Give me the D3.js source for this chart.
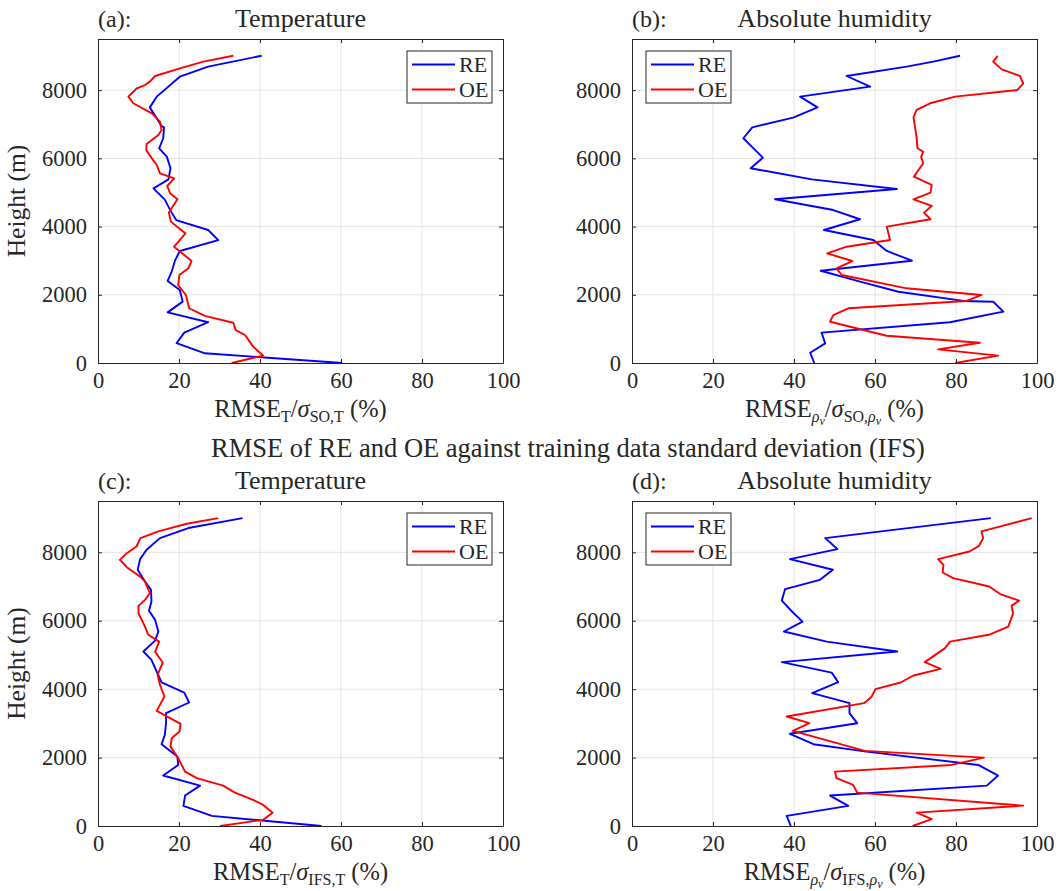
<!DOCTYPE html>
<html>
<head>
<meta charset="utf-8">
<script src="https://cdn.jsdelivr.net/npm/d3@7"></script>
<style>
  body { margin: 0; background: #fff; }
  svg text { font-family: "Liberation Serif", "Times New Roman", serif; fill: #262626; }
</style>
</head>
<body>
<svg id="chart" width="1059" height="891"></svg>
<script>
// [RMSE (%), height (m)], top to bottom
var tempSoRE = [[40.4,9010],[27.2,8690],[20.2,8395],[14.5,7810],[12.8,7495],[15.7,6950],[16.3,6910],[16.1,6590],[15.1,6295],[17.0,6050],[17.9,5710],[17.4,5385],[13.7,5120],[16.5,4790],[17.8,4490],[19.3,4190],[27.2,3900],[29.7,3605],[20.2,3285],[19.0,3000],[18.2,2680],[17.2,2405],[20.2,2140],[20.9,1800],[17.2,1485],[27.2,1195],[21.3,890],[19.4,580],[26.4,285],[60.3,0]];
var tempSoOE = [[33.4,9010],[26.0,8835],[20.2,8640],[14.1,8415],[12.8,8250],[11.6,8150],[9.6,8055],[7.5,7810],[8.7,7615],[13.3,7320],[15.3,7075],[15.7,6830],[14.9,6685],[12.0,6420],[11.9,6245],[13.3,6000],[14.5,5805],[15.3,5560],[18.8,5415],[17.1,5190],[17.8,4975],[19.6,4800],[17.5,4410],[18.0,4145],[21.6,3800],[18.8,3410],[23.1,2990],[22.3,2775],[20.1,2580],[19.8,2285],[21.7,1995],[22.5,1605],[26.4,1380],[33.4,1180],[34.0,965],[36.3,820],[38.3,480],[40.8,215],[33.0,0]];
var humSoRE = [[81.0,9010],[74.4,8835],[67.8,8690],[53.0,8415],[58.8,8105],[41.5,7810],[45.8,7495],[39.8,7195],[29.7,6910],[27.5,6590],[30.0,6295],[32.3,6020],[29.3,5710],[44.4,5385],[65.4,5100],[35.3,4800],[49.7,4485],[56.3,4215],[47.4,3900],[59.6,3605],[62.9,3285],[69.1,3000],[46.6,2705],[56.3,2385],[65.8,2090],[81.8,1820],[89.2,1795],[91.7,1505],[78.5,1195],[46.8,890],[47.7,575],[44.0,300],[45.0,0]];
var humSoOE = [[90.3,9010],[89.2,8835],[91.3,8610],[95.8,8415],[96.6,8200],[95.2,8005],[79.8,7810],[73.6,7615],[70.3,7420],[69.5,7205],[69.9,6910],[70.3,6590],[70.5,6295],[71.9,6195],[71.4,6050],[71.9,5855],[69.6,5465],[74.0,5220],[73.7,4995],[69.5,4800],[74.0,4605],[72.1,4410],[73.7,4215],[62.9,4000],[63.7,3605],[53.0,3410],[48.2,3215],[54.4,2990],[50.5,2775],[51.8,2580],[67.8,2190],[86.3,1995],[82.6,1820],[53.4,1605],[49.7,1405],[48.9,1210],[62.9,800],[85.9,595],[75.6,400],[90.4,215],[79.8,0]];
var tempIfsRE = [[35.7,9000],[22.3,8710],[15.3,8415],[12.0,8075],[10.4,7800],[9.8,7490],[11.6,7145],[13.1,6905],[13.2,6560],[12.6,6290],[14.1,6025],[14.9,5685],[14.1,5420],[11.2,5100],[13.2,4855],[15.7,4195],[21.3,3900],[22.5,3610],[16.8,3300],[16.8,3005],[16.5,2665],[15.7,2390],[19.6,2030],[19.8,1785],[16.1,1475],[25.2,1180],[21.5,890],[21.1,590],[28.1,295],[55.2,0]];
var tempIfsOE = [[29.7,9000],[21.9,8835],[14.9,8610],[10.5,8415],[9.5,8170],[7.1,7975],[5.4,7780],[7.1,7565],[10.4,7290],[11.6,7145],[12.8,6805],[11.6,6610],[10.0,6435],[10.0,6220],[10.8,6025],[11.6,5830],[12.4,5590],[15.1,5390],[14.1,5090],[16.0,4780],[14.7,4420],[15.3,4125],[16.4,3785],[14.5,3365],[20.4,2985],[20.1,2760],[18.2,2565],[17.9,2320],[19.8,1980],[21.5,1590],[24.4,1400],[30.9,1180],[33.8,975],[38.3,765],[40.8,615],[43.1,390],[40.8,180],[30.1,0]];
var humIfsRE = [[88.6,9000],[47.7,8415],[50.7,8095],[39.0,7800],[49.6,7490],[46.4,7195],[37.8,6925],[37.0,6590],[39.5,6270],[42.1,5975],[37.5,5685],[48.1,5390],[65.5,5100],[37.0,4790],[49.3,4485],[50.9,4205],[44.5,3885],[53.7,3590],[53.7,3300],[55.6,3005],[39.0,2695],[44.8,2390],[57.9,2175],[85.5,1785],[90.4,1475],[87.6,1180],[48.9,890],[53.4,590],[38.2,295],[39.2,0]];
var humIfsOE = [[98.7,9000],[86.3,8610],[86.7,8415],[85.7,8190],[83.3,8025],[75.6,7800],[76.9,7635],[76.7,7410],[79.3,7245],[88.2,7000],[90.9,6780],[95.6,6590],[93.7,6435],[94.1,6220],[92.9,5830],[88.1,5590],[78.5,5390],[77.3,5200],[72.3,4790],[76.2,4595],[69.5,4400],[66.3,4195],[60.1,4000],[59.2,3785],[57.3,3590],[38.2,3200],[43.8,3005],[39.7,2780],[57.5,2195],[86.9,2000],[78.9,1785],[50.1,1590],[50.5,1400],[54.6,1200],[55.6,975],[96.6,595],[70.3,390],[74.0,200],[69.3,0]];

var xTicks = [0, 20, 40, 60, 80, 100];
var yTicks = [0, 2000, 4000, 6000, 8000];
var seriesNames = ["RE", "OE"];
var seriesColors = ["#0000ff", "#ff0000"];
var panelLetters = ["(a):", "(b):", "(c):", "(d):"];
var panelTitles = ["Temperature", "Absolute humidity", "Temperature", "Absolute humidity"];
var yLabel = "Height (m)";
var subtitle = "RMSE of RE and OE against training data standard deviation (IFS)";

// x labels as [text, level, italic] pieces; level 1 = subscript, 2 = sub-subscript
var labelTemp = function(src) { return [["RMSE",0],["T",1],["/",0],["σ",0,1],[src + ",T",1],[" (%)",0]]; };
var labelHum = function(src) { return [["RMSE",0],["ρ",1,1],["v",2,1],["/",0],["σ",0,1],[src + ",",1],["ρ",1,1],["v",2,1],[" (%)",0]]; };

var cols = [[98, 503], [632, 1037]],
    rows = [[39, 363], [501, 826]];

var panels = [
  {col: 0, row: 0, series: [tempSoRE, tempSoOE], label: labelTemp("SO"), legendLeft: false},
  {col: 1, row: 0, series: [humSoRE, humSoOE], label: labelHum("SO"), legendLeft: true},
  {col: 0, row: 1, series: [tempIfsRE, tempIfsOE], label: labelTemp("IFS"), legendLeft: false},
  {col: 1, row: 1, series: [humIfsRE, humIfsOE], label: labelHum("IFS"), legendLeft: true}
];

var svg = d3.select("#chart");
var axisColor = "#262626";

panels.forEach(function(p, i) {
  var x0 = cols[p.col][0], x1 = cols[p.col][1],
      y0 = rows[p.row][0], y1 = rows[p.row][1];

  var x = d3.scaleLinear().domain([0, 100]).range([x0, x1]),
      y = d3.scaleLinear().domain([0, 9500]).range([y1, y0]);

  var g = svg.append("g");

  // grid
  g.selectAll(".gx").data(xTicks.slice(1, -1)).enter().append("line")
    .attr("x1", function(d) { return x(d); }).attr("x2", function(d) { return x(d); })
    .attr("y1", y0).attr("y2", y1)
    .attr("stroke", "#e3e3e3").attr("stroke-width", 1);
  g.selectAll(".gy").data(yTicks.slice(1)).enter().append("line")
    .attr("x1", x0).attr("x2", x1)
    .attr("y1", function(d) { return y(d); }).attr("y2", function(d) { return y(d); })
    .attr("stroke", "#e3e3e3").attr("stroke-width", 1);

  // lines
  var line = d3.line()
    .x(function(d) { return x(d[0]); })
    .y(function(d) { return y(d[1]); });
  p.series.forEach(function(s, k) {
    g.append("path")
      .attr("d", line(s))
      .attr("fill", "none")
      .attr("stroke", seriesColors[k])
      .attr("stroke-width", 1.9)
      .attr("stroke-linejoin", "round");
  });

  // box with inward ticks on all sides
  var bottom = d3.axisBottom(x).tickValues(xTicks).tickSizeInner(-4).tickSizeOuter(0).tickPadding(9),
      top = d3.axisTop(x).tickValues(xTicks).tickSizeInner(-4).tickSizeOuter(0).tickFormat(""),
      left = d3.axisLeft(y).tickValues(yTicks).tickSizeInner(-4).tickSizeOuter(0).tickPadding(11).tickFormat(d3.format("d")),
      right = d3.axisRight(y).tickValues(yTicks).tickSizeInner(-4).tickSizeOuter(0).tickFormat("");

  [[bottom, "translate(0," + y1 + ")"], [top, "translate(0," + y0 + ")"],
   [left, "translate(" + x0 + ",0)"], [right, "translate(" + x1 + ",0)"]].forEach(function(a) {
    var ag = g.append("g").attr("transform", a[1]).call(a[0]);
    ag.select(".domain").attr("stroke", axisColor).attr("stroke-width", 1);
    ag.selectAll(".tick line").attr("stroke", axisColor);
    ag.selectAll(".tick text")
      .attr("fill", axisColor)
      .style("font-family", '"Liberation Serif", serif')
      .style("font-size", "22.5px");
  });

  // titles
  g.append("text").attr("x", x0).attr("y", y0 - 12)
    .style("font-size", "24px").text(panelLetters[i]);
  g.append("text").attr("x", (x0 + x1) / 2).attr("y", y0 - 12)
    .attr("text-anchor", "middle").style("font-size", "26px").text(panelTitles[i]);

  // x label
  var xl = g.append("text").attr("x", (x0 + x1) / 2).attr("y", y1 + 54)
    .attr("text-anchor", "middle");
  var sizes = [24.5, 16, 12], shifts = [0, 5, 8], level = 0;
  p.label.forEach(function(piece) {
    var lv = piece[1];
    xl.append("tspan")
      .attr("dy", shifts[lv] - shifts[level])
      .style("font-size", sizes[lv] + "px")
      .style("font-style", piece[2] ? "italic" : "normal")
      .text(piece[0]);
    level = lv;
  });

  // y label on the left column only
  if (p.col === 0) {
    g.append("text")
      .attr("transform", "translate(25," + (y0 + y1) / 2 + ") rotate(-90)")
      .attr("text-anchor", "middle")
      .style("font-size", "25.5px")
      .text(yLabel);
  }

  // legend
  var lx = p.legendLeft ? x0 + 14 : x0 + 309, ly = y0 + 12;
  var lg = g.append("g").attr("transform", "translate(" + lx + "," + ly + ")");
  lg.append("rect").attr("width", 85).attr("height", 52)
    .attr("fill", "#fff").attr("stroke", axisColor).attr("stroke-width", 1);
  seriesNames.forEach(function(name, k) {
    var yy = 13.5 + k * 25;
    lg.append("line").attr("x1", 5).attr("x2", 48).attr("y1", yy).attr("y2", yy)
      .attr("stroke", seriesColors[k]).attr("stroke-width", 1.9);
    lg.append("text").attr("x", 52).attr("y", yy + 7)
      .style("font-size", "22px").text(name);
  });
});

svg.append("text")
  .attr("x", 568).attr("y", 457)
  .attr("text-anchor", "middle")
  .style("font-size", "26.5px")
  .text(subtitle);
</script>
</body>
</html>
